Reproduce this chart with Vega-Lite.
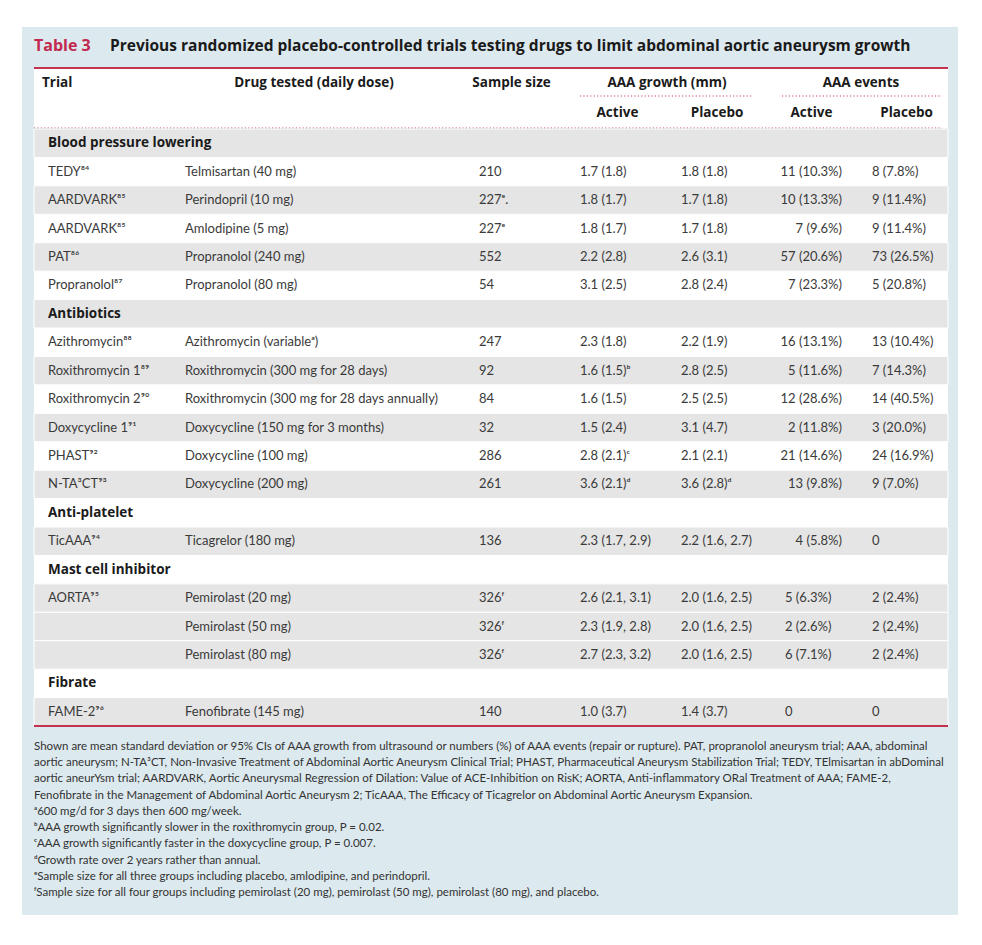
{
  "$schema": "https://vega.github.io/schema/vega-lite/v6.json",
  "width": 936,
  "height": 888,
  "autosize": {"type": "none"},
  "padding": {"left": 22, "top": 27, "right": 24, "bottom": 30},
  "background": "#ffffff",
  "config": {
    "view": {"fill": "#dce9ee", "stroke": null},
    "text": {"font": "Lato", "baseline": "middle"}
  },
  "datasets": {
    "rows": [
      {"row": 0, "kind": "category", "category": "Blood pressure lowering"},
      {"row": 1, "kind": "trial", "study": "TEDY", "trial": "TEDY⁸⁴", "drug": "Telmisartan (40 mg)", "n": "210", "gA": "1.7 (1.8)", "gP": "1.8 (1.8)", "eA": "11 (10.3%)", "eP": "8 (7.8%)"},
      {"row": 2, "kind": "trial", "study": "AARDVARK", "trial": "AARDVARK⁸⁵", "drug": "Perindopril (10 mg)", "n": "227ᵉ.", "gA": "1.8 (1.7)", "gP": "1.7 (1.8)", "eA": "10 (13.3%)", "eP": "9 (11.4%)"},
      {"row": 3, "kind": "trial", "study": "AARDVARK", "trial": "AARDVARK⁸⁵", "drug": "Amlodipine (5 mg)", "n": "227ᵉ", "gA": "1.8 (1.7)", "gP": "1.7 (1.8)", "eA": "7 (9.6%)", "eP": "9 (11.4%)"},
      {"row": 4, "kind": "trial", "study": "PAT", "trial": "PAT⁸⁶", "drug": "Propranolol (240 mg)", "n": "552", "gA": "2.2 (2.8)", "gP": "2.6 (3.1)", "eA": "57 (20.6%)", "eP": "73 (26.5%)"},
      {"row": 5, "kind": "trial", "study": "Propranolol", "trial": "Propranolol⁸⁷", "drug": "Propranolol (80 mg)", "n": "54", "gA": "3.1 (2.5)", "gP": "2.8 (2.4)", "eA": "7 (23.3%)", "eP": "5 (20.8%)"},
      {"row": 6, "kind": "category", "category": "Antibiotics"},
      {"row": 7, "kind": "trial", "study": "Azithromycin", "trial": "Azithromycin⁸⁸", "drug": "Azithromycin (variableᵃ)", "n": "247", "gA": "2.3 (1.8)", "gP": "2.2 (1.9)", "eA": "16 (13.1%)", "eP": "13 (10.4%)"},
      {"row": 8, "kind": "trial", "study": "Roxithromycin 1", "trial": "Roxithromycin 1⁸⁹", "drug": "Roxithromycin (300 mg for 28 days)", "n": "92", "gA": "1.6 (1.5)ᵇ", "gP": "2.8 (2.5)", "eA": "5 (11.6%)", "eP": "7 (14.3%)"},
      {"row": 9, "kind": "trial", "study": "Roxithromycin 2", "trial": "Roxithromycin 2⁹⁰", "drug": "Roxithromycin (300 mg for 28 days annually)", "n": "84", "gA": "1.6 (1.5)", "gP": "2.5 (2.5)", "eA": "12 (28.6%)", "eP": "14 (40.5%)"},
      {"row": 10, "kind": "trial", "study": "Doxycycline 1", "trial": "Doxycycline 1⁹¹", "drug": "Doxycycline (150 mg for 3 months)", "n": "32", "gA": "1.5 (2.4)", "gP": "3.1 (4.7)", "eA": "2 (11.8%)", "eP": "3 (20.0%)"},
      {"row": 11, "kind": "trial", "study": "PHAST", "trial": "PHAST⁹²", "drug": "Doxycycline (100 mg)", "n": "286", "gA": "2.8 (2.1)ᶜ", "gP": "2.1 (2.1)", "eA": "21 (14.6%)", "eP": "24 (16.9%)"},
      {"row": 12, "kind": "trial", "study": "N-TA3CT", "trial": "N-TA³CT⁹³", "drug": "Doxycycline (200 mg)", "n": "261", "gA": "3.6 (2.1)ᵈ", "gP": "3.6 (2.8)ᵈ", "eA": "13 (9.8%)", "eP": "9 (7.0%)"},
      {"row": 13, "kind": "category", "category": "Anti-platelet"},
      {"row": 14, "kind": "trial", "study": "TicAAA", "trial": "TicAAA⁹⁴", "drug": "Ticagrelor (180 mg)", "n": "136", "gA": "2.3 (1.7, 2.9)", "gP": "2.2 (1.6, 2.7)", "eA": "4 (5.8%)", "eP": "0"},
      {"row": 15, "kind": "category", "category": "Mast cell inhibitor"},
      {"row": 16, "kind": "trial", "study": "AORTA", "trial": "AORTA⁹⁵", "drug": "Pemirolast (20 mg)", "n": "326ᶠ", "gA": "2.6 (2.1, 3.1)", "gP": "2.0 (1.6, 2.5)", "eA": "5 (6.3%)", "eP": "2 (2.4%)"},
      {"row": 17, "kind": "trial", "study": "AORTA", "drug": "Pemirolast (50 mg)", "n": "326ᶠ", "gA": "2.3 (1.9, 2.8)", "gP": "2.0 (1.6, 2.5)", "eA": "2 (2.6%)", "eP": "2 (2.4%)"},
      {"row": 18, "kind": "trial", "study": "AORTA", "drug": "Pemirolast (80 mg)", "n": "326ᶠ", "gA": "2.7 (2.3, 3.2)", "gP": "2.0 (1.6, 2.5)", "eA": "6 (7.1%)", "eP": "2 (2.4%)"},
      {"row": 19, "kind": "category", "category": "Fibrate"},
      {"row": 20, "kind": "trial", "study": "FAME-2", "trial": "FAME-2⁹⁶", "drug": "Fenofibrate (145 mg)", "n": "140", "gA": "1.0 (3.7)", "gP": "1.4 (3.7)", "eA": "0", "eP": "0"}
    ],
    "header": [
      {"h": "h1", "trialH": "Trial", "drugH": "Drug tested (daily dose)", "nH": "Sample size", "growthH": "AAA growth (mm)", "eventsH": "AAA events"},
      {"h": "h2", "gAH": "Active", "gPH": "Placebo", "eAH": "Active", "ePH": "Placebo"}
    ],
    "title": [
      {"t": "t", "label": "Table 3", "title": "Previous randomized placebo-controlled trials testing drugs to limit abdominal aortic aneurysm growth"}
    ],
    "notes": [
      {"line": 1, "text": "Shown are mean standard deviation or 95% CIs of AAA growth from ultrasound or numbers (%) of AAA events (repair or rupture). PAT, propranolol aneurysm trial; AAA, abdominal"},
      {"line": 2, "text": "aortic aneurysm; N-TA³CT, Non-Invasive Treatment of Abdominal Aortic Aneurysm Clinical Trial; PHAST, Pharmaceutical Aneurysm Stabilization Trial; TEDY, TElmisartan in abDominal"},
      {"line": 3, "text": "aortic aneurYsm trial; AARDVARK, Aortic Aneurysmal Regression of Dilation: Value of ACE-Inhibition on RisK; AORTA, Anti-inflammatory ORal Treatment of AAA; FAME-2,"},
      {"line": 4, "text": "Fenofibrate in the Management of Abdominal Aortic Aneurysm 2; TicAAA, The Efficacy of Ticagrelor on Abdominal Aortic Aneurysm Expansion."},
      {"line": 5, "text": "ᵃ600 mg/d for 3 days then 600 mg/week."},
      {"line": 6, "text": "ᵇAAA growth significantly slower in the roxithromycin group, P = 0.02."},
      {"line": 7, "text": "ᶜAAA growth significantly faster in the doxycycline group, P = 0.007."},
      {"line": 8, "text": "ᵈGrowth rate over 2 years rather than annual."},
      {"line": 9, "text": "ᵉSample size for all three groups including placebo, amlodipine, and perindopril."},
      {"line": 10, "text": "ᶠSample size for all four groups including pemirolast (20 mg), pemirolast (50 mg), pemirolast (80 mg), and placebo."}
    ]
  },
  "resolve": {"scale": {"y": "independent"}},
  "layer": [
    {
      "data": {"name": "title"},
      "encoding": {
        "y": {"field": "t", "type": "nominal", "scale": {"type": "band", "domain": ["t"], "range": [0, 37], "paddingInner": 0, "paddingOuter": 0}, "axis": null}
      },
      "layer": [
        {
          "mark": {"type": "text", "align": "left", "font": "Open Sans", "fontWeight": "bold", "fontSize": 16, "color": "#c2294e"},
          "encoding": {
            "x": {"datum": 0, "type": "quantitative", "scale": {"type": "linear", "domain": [0, 1, 2, 3, 4, 5, 6, 7], "range": [12, 150, 434, 545, 646, 744, 835, 926], "zero": false, "nice": false}, "axis": null},
            "text": {"field": "label", "type": "nominal"}
          }
        },
        {
          "mark": {"type": "text", "align": "left", "font": "Open Sans", "fontWeight": "bold", "fontSize": 15.5, "color": "#1a1a1a", "dx": 76},
          "encoding": {
            "x": {"datum": 0, "type": "quantitative", "axis": null},
            "text": {"field": "title", "type": "nominal"}
          }
        }
      ]
    },
    {
      "data": {"name": "header"},
      "encoding": {
        "y": {"field": "h", "type": "nominal", "scale": {"type": "band", "domain": ["h1", "h2"], "range": [41, 101], "paddingInner": 0, "paddingOuter": 0}, "axis": null}
      },
      "layer": [
        {
          "mark": {"type": "rect", "fill": "#ffffff"},
          "encoding": {
            "x": {"datum": 0, "type": "quantitative", "axis": null},
            "x2": {"datum": 7}
          }
        },
        {
          "transform": [{"filter": "datum.h == 'h1'"}],
          "mark": {"type": "rule", "color": "#c3324f", "strokeWidth": 2},
          "encoding": {
            "x": {"datum": 0, "type": "quantitative", "axis": null},
            "x2": {"datum": 7},
            "y": {"field": "h", "type": "nominal", "bandPosition": 0}
          }
        },
        {
          "transform": [{"filter": "datum.h == 'h1'"}],
          "mark": {"type": "rule", "color": "#c8435f", "strokeWidth": 1.2, "strokeDash": [1.2, 2.2], "xOffset": 13, "x2Offset": -13, "yOffset": -2},
          "encoding": {
            "x": {"datum": 3, "type": "quantitative", "axis": null},
            "x2": {"datum": 5},
            "y": {"field": "h", "type": "nominal", "bandPosition": 1}
          }
        },
        {
          "transform": [{"filter": "datum.h == 'h1'"}],
          "mark": {"type": "rule", "color": "#c8435f", "strokeWidth": 1.2, "strokeDash": [1.2, 2.2], "xOffset": 16, "x2Offset": -6, "yOffset": -2},
          "encoding": {
            "x": {"datum": 5, "type": "quantitative", "axis": null},
            "x2": {"datum": 7},
            "y": {"field": "h", "type": "nominal", "bandPosition": 1}
          }
        },
        {
          "transform": [{"filter": "datum.h == 'h2'"}],
          "mark": {"type": "rule", "color": "#c8435f", "strokeWidth": 1.2, "strokeDash": [1.2, 2.2], "x2Offset": -6},
          "encoding": {
            "x": {"datum": 0, "type": "quantitative", "axis": null},
            "x2": {"datum": 7},
            "y": {"field": "h", "type": "nominal", "bandPosition": 1}
          }
        },
        {
          "transform": [{"filter": "isValid(datum.trialH)"}],
          "mark": {"type": "text", "align": "left", "font": "Open Sans", "fontWeight": "bold", "fontSize": 13.5, "color": "#1a1a1a", "dx": 8},
          "encoding": {"x": {"datum": 0, "type": "quantitative", "axis": null}, "text": {"field": "trialH", "type": "nominal"}}
        },
        {
          "transform": [{"filter": "isValid(datum.drugH)"}],
          "mark": {"type": "text", "align": "center", "font": "Open Sans", "fontWeight": "bold", "fontSize": 13.5, "color": "#1a1a1a"},
          "encoding": {"x": {"datum": 1.5, "type": "quantitative", "axis": null}, "text": {"field": "drugH", "type": "nominal"}}
        },
        {
          "transform": [{"filter": "isValid(datum.nH)"}],
          "mark": {"type": "text", "align": "center", "font": "Open Sans", "fontWeight": "bold", "fontSize": 13.5, "color": "#1a1a1a"},
          "encoding": {"x": {"datum": 2.5, "type": "quantitative", "axis": null}, "text": {"field": "nH", "type": "nominal"}}
        },
        {
          "transform": [{"filter": "isValid(datum.growthH)"}],
          "mark": {"type": "text", "align": "center", "font": "Open Sans", "fontWeight": "bold", "fontSize": 13.5, "color": "#1a1a1a", "dx": -1},
          "encoding": {"x": {"datum": 4, "type": "quantitative", "axis": null}, "text": {"field": "growthH", "type": "nominal"}}
        },
        {
          "transform": [{"filter": "isValid(datum.eventsH)"}],
          "mark": {"type": "text", "align": "center", "font": "Open Sans", "fontWeight": "bold", "fontSize": 13.5, "color": "#1a1a1a", "dx": 4},
          "encoding": {"x": {"datum": 6, "type": "quantitative", "axis": null}, "text": {"field": "eventsH", "type": "nominal"}}
        },
        {
          "transform": [{"filter": "isValid(datum.gAH)"}],
          "mark": {"type": "text", "align": "center", "font": "Open Sans", "fontWeight": "bold", "fontSize": 13.5, "color": "#1a1a1a"},
          "encoding": {"x": {"datum": 3.5, "type": "quantitative", "axis": null}, "text": {"field": "gAH", "type": "nominal"}}
        },
        {
          "transform": [{"filter": "isValid(datum.gPH)"}],
          "mark": {"type": "text", "align": "center", "font": "Open Sans", "fontWeight": "bold", "fontSize": 13.5, "color": "#1a1a1a"},
          "encoding": {"x": {"datum": 4.5, "type": "quantitative", "axis": null}, "text": {"field": "gPH", "type": "nominal"}}
        },
        {
          "transform": [{"filter": "isValid(datum.eAH)"}],
          "mark": {"type": "text", "align": "center", "font": "Open Sans", "fontWeight": "bold", "fontSize": 13.5, "color": "#1a1a1a"},
          "encoding": {"x": {"datum": 5.5, "type": "quantitative", "axis": null}, "text": {"field": "eAH", "type": "nominal"}}
        },
        {
          "transform": [{"filter": "isValid(datum.ePH)"}],
          "mark": {"type": "text", "align": "center", "font": "Open Sans", "fontWeight": "bold", "fontSize": 13.5, "color": "#1a1a1a", "dx": 4},
          "encoding": {"x": {"datum": 6.5, "type": "quantitative", "axis": null}, "text": {"field": "ePH", "type": "nominal"}}
        }
      ]
    },
    {
      "data": {"name": "rows"},
      "encoding": {
        "y": {"field": "row", "type": "ordinal", "scale": {"type": "band", "domain": [0, 1, 2, 3, 4, 5, 6, 7, 8, 9, 10, 11, 12, 13, 14, 15, 16, 17, 18, 19, 20], "range": [102, 699], "paddingInner": 0, "paddingOuter": 0}, "axis": null}
      },
      "layer": [
        {
          "mark": {"type": "rect", "fill": "#ffffff"},
          "encoding": {"x": {"datum": 0, "type": "quantitative", "axis": null}, "x2": {"datum": 7}}
        },
        {
          "transform": [{"filter": "datum.row % 2 == 0 || datum.study == 'AORTA'"}],
          "mark": {"type": "rect", "fill": "#e5e5e5", "stroke": "#ffffff", "strokeWidth": 1},
          "encoding": {"x": {"datum": 0, "type": "quantitative", "axis": null}, "x2": {"datum": 7}}
        },
        {
          "transform": [{"filter": "datum.row == 20"}],
          "mark": {"type": "rule", "color": "#c3324f", "strokeWidth": 2},
          "encoding": {
            "x": {"datum": 0, "type": "quantitative", "axis": null},
            "x2": {"datum": 7},
            "y": {"field": "row", "type": "ordinal", "bandPosition": 1}
          }
        },
        {
          "transform": [{"filter": "datum.kind == 'category'"}],
          "mark": {"type": "text", "align": "left", "font": "Open Sans", "fontWeight": "bold", "fontSize": 13.5, "color": "#1a1a1a", "dx": 14},
          "encoding": {"x": {"datum": 0, "type": "quantitative", "axis": null}, "text": {"field": "category", "type": "nominal"}}
        },
        {
          "transform": [{"filter": "isValid(datum.trial)"}],
          "mark": {"type": "text", "align": "left", "fontSize": 13, "color": "#3a3a3a", "dx": 14},
          "encoding": {"x": {"datum": 0, "type": "quantitative", "axis": null}, "text": {"field": "trial", "type": "nominal"}}
        },
        {
          "transform": [{"filter": "isValid(datum.drug)"}],
          "mark": {"type": "text", "align": "left", "fontSize": 13, "color": "#3a3a3a", "dx": 13},
          "encoding": {"x": {"datum": 1, "type": "quantitative", "axis": null}, "text": {"field": "drug", "type": "nominal"}}
        },
        {
          "transform": [{"filter": "isValid(datum.n)"}],
          "mark": {"type": "text", "align": "left", "fontSize": 13, "color": "#3a3a3a", "dx": 23},
          "encoding": {"x": {"datum": 2, "type": "quantitative", "axis": null}, "text": {"field": "n", "type": "nominal"}}
        },
        {
          "transform": [{"filter": "isValid(datum.gA)"}],
          "mark": {"type": "text", "align": "left", "fontSize": 13, "color": "#3a3a3a", "dx": 13},
          "encoding": {"x": {"datum": 3, "type": "quantitative", "axis": null}, "text": {"field": "gA", "type": "nominal"}}
        },
        {
          "transform": [{"filter": "isValid(datum.gP)"}],
          "mark": {"type": "text", "align": "left", "fontSize": 13, "color": "#3a3a3a", "dx": 13},
          "encoding": {"x": {"datum": 4, "type": "quantitative", "axis": null}, "text": {"field": "gP", "type": "nominal"}}
        },
        {
          "transform": [{"filter": "isValid(datum.eA) && datum.study != 'AORTA' && datum.study != 'FAME-2'"}],
          "mark": {"type": "text", "align": "right", "fontSize": 13, "color": "#3a3a3a", "dx": -15},
          "encoding": {"x": {"datum": 6, "type": "quantitative", "axis": null}, "text": {"field": "eA", "type": "nominal"}}
        },
        {
          "transform": [{"filter": "datum.study == 'AORTA' || datum.study == 'FAME-2'"}],
          "mark": {"type": "text", "align": "left", "fontSize": 13, "color": "#3a3a3a", "dx": 19},
          "encoding": {"x": {"datum": 5, "type": "quantitative", "axis": null}, "text": {"field": "eA", "type": "nominal"}}
        },
        {
          "transform": [{"filter": "isValid(datum.eP)"}],
          "mark": {"type": "text", "align": "left", "fontSize": 13, "color": "#3a3a3a", "dx": 15},
          "encoding": {"x": {"datum": 6, "type": "quantitative", "axis": null}, "text": {"field": "eP", "type": "nominal"}}
        }
      ]
    },
    {
      "data": {"name": "notes"},
      "mark": {"type": "text", "align": "left", "fontSize": 11.5, "color": "#333333"},
      "encoding": {
        "y": {"field": "line", "type": "ordinal", "scale": {"type": "band", "domain": [1, 2, 3, 4, 5, 6, 7, 8, 9, 10], "range": [711.5, 874.5], "paddingInner": 0, "paddingOuter": 0}, "axis": null},
        "x": {"datum": 0, "type": "quantitative", "axis": null},
        "text": {"field": "text", "type": "nominal"}
      }
    }
  ]
}
